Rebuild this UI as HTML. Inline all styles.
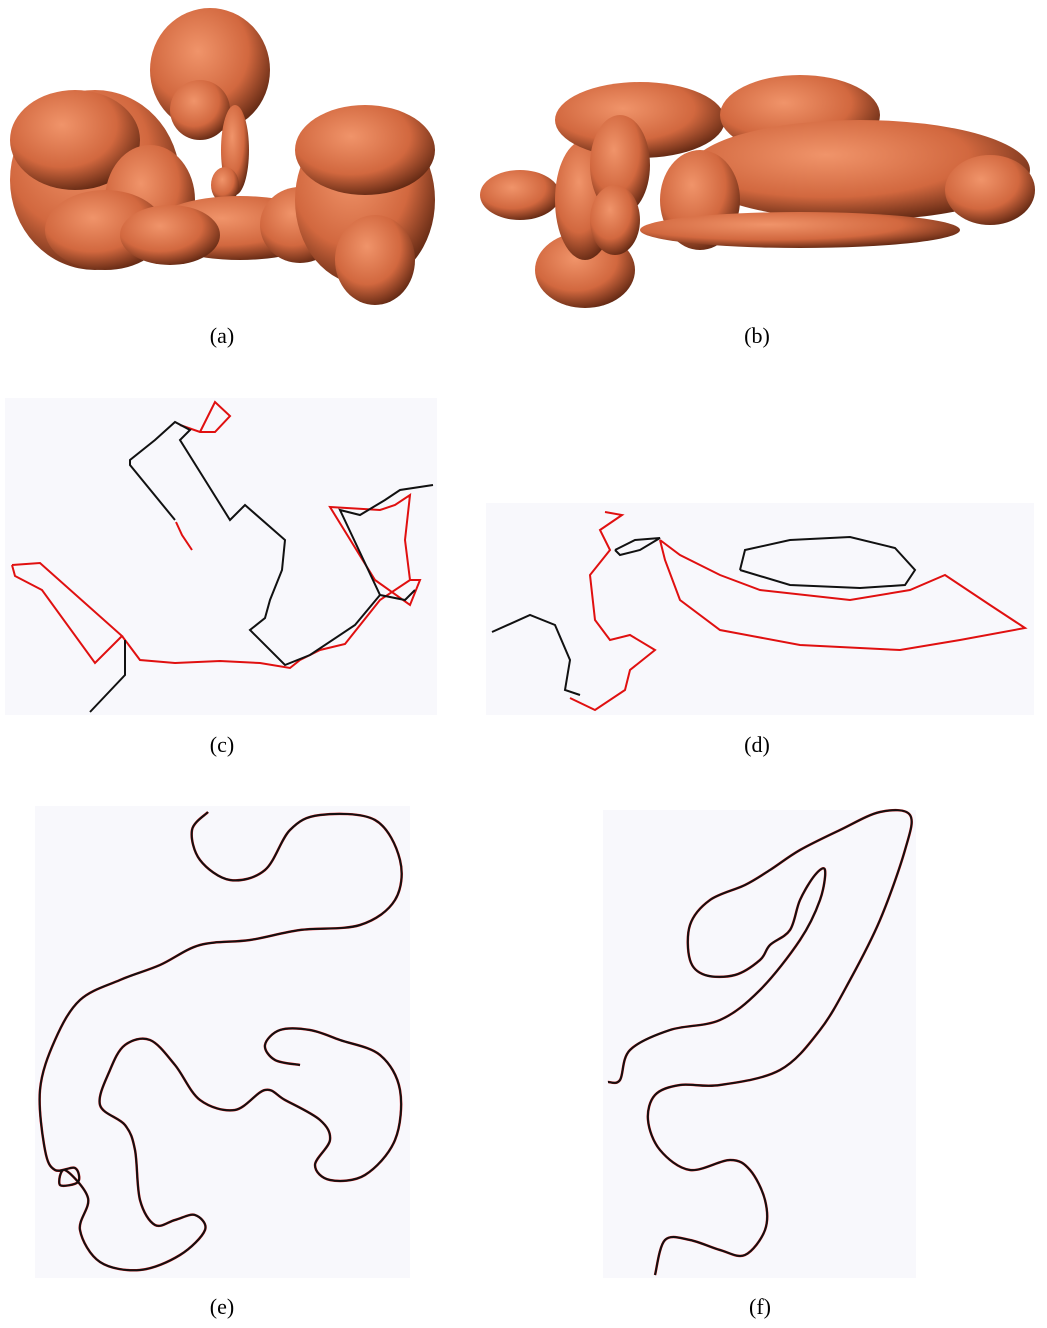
<!DOCTYPE html>
<html><head><meta charset="utf-8"><style>
html,body{margin:0;padding:0;background:#fff;}
svg{display:block;}
text{font-family:"Liberation Serif",serif;font-size:22px;}
</style></head><body>
<svg width="1047" height="1328" viewBox="0 0 1047 1328">
<defs>
<radialGradient id="og" cx="40%" cy="35%" r="70%">
<stop offset="0" stop-color="#f0946a"/><stop offset="0.6" stop-color="#d2683f"/><stop offset="1" stop-color="#5a2410"/>
</radialGradient>
</defs>
<g id="pa"></g>
<g id="pb"></g>
<text x="222" y="343" text-anchor="middle">(a)</text>
<text x="757" y="343" text-anchor="middle">(b)</text>
<rect x="5" y="398" width="432" height="317" fill="#f8f8fc"/>
<rect x="486" y="503" width="548" height="212" fill="#f8f8fc"/>
<text x="222" y="752" text-anchor="middle">(c)</text>
<text x="757" y="752" text-anchor="middle">(d)</text>
<rect x="35" y="806" width="375" height="472" fill="#f8f8fc"/>
<rect x="603" y="810" width="313" height="468" fill="#f8f8fc"/>
<text x="222" y="1314" text-anchor="middle">(e)</text>
<text x="760" y="1314" text-anchor="middle">(f)</text>
<g id="curves"></g>
</svg>
<script>
const NS="http://www.w3.org/2000/svg";
// blobs: cx, cy, rx, ry
const blobsA=[[95,180,85,90],[75,140,65,50],[150,200,45,55],[105,230,60,40],[210,70,60,62],[200,110,30,30],[235,150,14,45],[225,185,14,18],[240,228,90,32],[170,235,50,30],[300,225,40,38],[365,200,70,85],[365,150,70,45],[375,260,40,45]];
const blobsB=[[520,195,40,25],[585,270,50,38],[585,200,30,60],[640,120,85,38],[620,165,30,50],[800,115,80,40],[860,170,170,50],[700,200,40,50],[800,230,160,18],[990,190,45,35],[615,220,25,35]];
// polylines
const cRed1=[[192,550],[182,535],[176,522]];
const cRed2=[[200,432],[215,402],[230,416],[215,432],[200,432],[180,425]];
const cRed3=[[12,565],[40,563],[122,636],[95,663],[42,590],[15,576],[12,565]];
const cRed4=[[122,636],[140,660],[175,663],[220,661],[260,663],[290,668],[300,660],[320,650],[345,644],[380,600],[410,580],[420,580],[410,605],[375,580],[330,507],[380,510],[395,505],[410,495],[405,540],[410,580]];
const cBlk1=[[90,712],[125,675],[125,640]];
const cBlk2=[[175,520],[130,465],[130,460],[155,440],[175,422],[190,430],[180,440],[205,480],[230,520],[245,505],[285,540],[282,570],[270,600],[265,618],[250,630],[285,665],[310,655],[355,625],[380,595],[340,510],[360,515],[385,500],[400,490],[433,485]];
const cBlk3=[[380,595],[405,600],[415,590]];
const dBlk1=[[492,632],[530,615],[555,625],[570,660],[565,690],[580,695]];
const dBlk2=[[615,550],[635,540],[660,538],[640,550],[620,555],[615,550]];
const dBlk3=[[740,570],[745,550],[790,540],[850,537],[895,548],[915,570],[905,585],[860,588],[790,585],[740,570]];
const dRed1=[[605,512],[622,515],[600,530],[610,550],[590,575],[595,620],[610,640],[630,635],[655,650],[630,670],[625,690],[595,710],[570,698]];
const dRed2=[[660,540],[665,560],[680,600],[720,630],[800,645],[900,650],[960,640],[1025,628],[990,605],[945,575],[910,590],[850,600],[760,590],[720,575],[680,555],[660,540]];
const ePts=[[208,812],[192,830],[200,860],[230,880],[265,870],[290,830],[320,815],[375,820],[400,860],[395,900],[360,925],[300,930],[250,940],[200,945],[160,965],[120,980],[80,1000],[55,1040],[40,1090],[45,1150],[55,1170],[75,1168],[78,1182],[60,1185],[65,1170],[88,1198],[80,1230],[100,1262],[140,1270],[180,1255],[205,1230],[195,1215],[175,1220],[155,1225],[140,1200],[135,1150],[125,1125],[100,1105],[110,1070],[125,1045],[150,1040],[175,1065],[200,1100],[235,1110],[265,1090],[285,1100],[320,1120],[330,1140],[315,1165],[330,1180],[365,1175],[395,1140],[400,1090],[380,1055],[340,1040],[310,1030],[280,1030],[265,1045],[275,1060],[300,1065]];
const fPts=[[608,1082],[620,1080],[630,1050],[670,1030],[720,1020],[760,990],[800,940],[820,900],[825,870],[815,875],[800,900],[790,930],[770,945],[760,960],[735,975],[705,975],[690,960],[690,925],[710,900],[745,885],[770,870],[800,850],[840,830],[880,812],[910,815],[905,850],[880,920],[850,980],[820,1030],[780,1070],[720,1085],[680,1085],[655,1095],[648,1120],[660,1150],[690,1170],[730,1160],[750,1170],[765,1200],[765,1230],[745,1255],[720,1250],[690,1240],[665,1240],[655,1275]];

function blobs(id,arr){const g=document.getElementById(id);arr.forEach(b=>{const e=document.createElementNS(NS,'ellipse');


e.setAttribute('cx',b[0]);e.setAttribute('cy',b[1]);e.setAttribute('rx',b[2]);e.setAttribute('ry',b[3]);e.setAttribute('fill','url(#og)');g.appendChild(e);});}
blobs('pa',blobsA);blobs('pb',blobsB);
const cg=document.getElementById('curves');
function poly(pts,col,w){const p=document.createElementNS(NS,'polyline');


p.setAttribute('points',pts.map(q=>q.join(',')).join(' '));p.setAttribute('fill','none');p.setAttribute('stroke',col);p.setAttribute('stroke-width',w);cg.appendChild(p);}
function smooth(pts,col,w){let d='M'+pts[0].join(',');for(let i=0;i<pts.length-1;i++){const p0=pts[i-1]||pts[i],p1=pts[i],p2=pts[i+1],p3=pts[i+2]||p2;
d+=` C${p1[0]+(p2[0]-p0[0])/6},${p1[1]+(p2[1]-p0[1])/6} ${p2[0]-(p3[0]-p1[0])/6},${p2[1]-(p3[1]-p1[1])/6} ${p2[0]},${p2[1]}`;}
const p=document.createElementNS(NS,'path');


p.setAttribute('d',d);p.setAttribute('fill','none');p.setAttribute('stroke',col);p.setAttribute('stroke-width',w);cg.appendChild(p);}
[cRed1,cRed2,cRed3,cRed4,dRed1,dRed2].forEach(a=>poly(a,'#e01010',2));
[cBlk1,cBlk2,cBlk3,dBlk1,dBlk2,dBlk3].forEach(a=>poly(a,'#111',2));
smooth(ePts,'#e01010',2.5);smooth(ePts,'#111',2);
smooth(fPts,'#e01010',2.5);smooth(fPts,'#111',2);
</script>
</body></html>
